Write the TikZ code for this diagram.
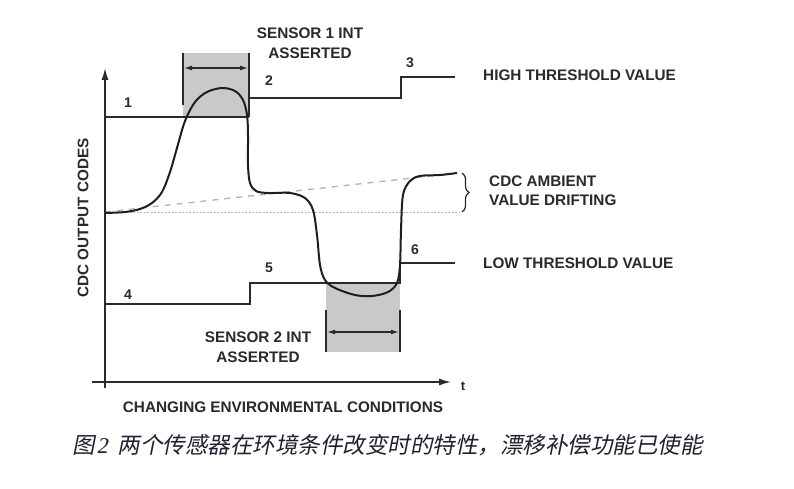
\documentclass[tikz,border=0pt]{standalone}
\usepackage{fontspec}
\setmainfont{Liberation Sans}
\newfontfamily\cjk[FakeSlant=0.2]{Noto Sans CJK SC}
\newfontfamily\capnum[FakeSlant=0.2]{Liberation Serif}
\usetikzlibrary{arrows.meta,decorations.pathreplacing}
\definecolor{ink}{HTML}{2A2A2A}
\definecolor{curvec}{HTML}{1E1E1E}
\definecolor{shade}{HTML}{C9C9C9}
\definecolor{capc}{HTML}{202030}
\begin{document}
\begin{tikzpicture}[x=1pt,y=-1pt,
  lbl/.style={font=\bfseries\fontsize{15.3}{19.5}\selectfont, text=ink, inner sep=0pt},
  num/.style={font=\bfseries\fontsize{14}{14}\selectfont, text=ink, inner sep=0pt},
  thr/.style={draw=ink, line width=1.5pt},
  edge/.style={draw=ink, line width=1.3pt},
  axis/.style={draw=ink, line width=1.5pt, -{Latex[length=12pt,width=7pt]}},
  span/.style={draw=ink, line width=1.3pt, {Latex[length=8pt,width=5pt]}-{Latex[length=8pt,width=5pt]}},
  shadebox/.style={fill=shade, draw=none}]
\path[use as bounding box, fill=white] (0,0) rectangle (794,489);

% shaded intervals
\path[shadebox] (183,53) rectangle (249,117);
\path[shadebox] (326,283) rectangle (400,352);

% baseline and drift
\draw[draw=gray!55, line width=0.9pt, dash pattern=on 2pt off 1.5pt] (105,212) -- (460,212);
\draw[draw=gray!60, line width=1.3pt, dash pattern=on 6pt off 6pt] (105,212) -- (458,173);
\coordinate (brT) at (462,173);
\coordinate (brB) at (462,212);
\draw[draw=ink, line width=1.2pt, decorate, decoration={brace, amplitude=7pt}] (brT) -- (brB);

% axes
\coordinate (yB) at (105,388);
\coordinate (yT) at (105,68);
\coordinate (xL) at (92,382);
\coordinate (xR) at (451,382);
\draw[axis] (yB) -- (yT);
\draw[axis] (xL) -- (xR);

% high thresholds
\draw[thr] (105,117) -- (249,117);
\draw[thr] (249,98) -- (401,98) -- (401,77) -- (455,77);
% low thresholds
\draw[thr] (105,304) -- (250,304) -- (250,283) -- (400,283) -- (400,263) -- (455,263);

% interval edges
\draw[edge] (183,53) -- (183,105);
\draw[edge] (249,53) -- (249,117);
\draw[edge] (326,310) -- (326,352);
\draw[edge] (400,310) -- (400,352);
\coordinate (a1L) at (184,68);
\coordinate (a1R) at (248,68);
\coordinate (a2L) at (327,332);
\coordinate (a2R) at (399,332);
\draw[span] (a1L) -- (a1R);
\draw[span] (a2L) -- (a2R);

% CDC output curve
\draw[draw=curvec, line width=2pt, line join=round]
  plot[smooth, tension=0.55] coordinates {
   (105,213) (125,212) (140,209) (152,203) (162,192) (170,172) (177,148)
   (185,121) (195,102) (207,92) (222,88) (235,91) (243,100) (247,115)
   (248,135) (248,165) (250,183) (256,191) (268,193) (290,193) (305,198)
   (313,210) (317,235) (320,265) (325,280) (335,288) (355,295) (372,296)
   (388,292) (397,283) (400,265) (401,230) (403,195) (410,181) (420,176)
   (440,175) (457,173)};

% labels
\node[lbl, align=center] (s1) at (310,43) {SENSOR 1 INT\\ASSERTED};
\node[lbl, align=center] (s2) at (258,347) {SENSOR 2 INT\\ASSERTED};
\node[lbl, anchor=west] (hi) at (483,75) {HIGH THRESHOLD VALUE};
\node[lbl, anchor=west] (lo) at (483,263) {LOW THRESHOLD VALUE};
\node[lbl, anchor=west, align=left] (drift) at (489,190.5) {CDC AMBIENT\\VALUE DRIFTING};
\node[lbl] (xlab) at (283,407) {CHANGING ENVIRONMENTAL CONDITIONS};
\node[lbl, rotate=90] (ylab) at (83,218) {CDC OUTPUT CODES};
\node[font=\bfseries\fontsize{13}{13}\selectfont, text=ink, inner sep=0pt] (tl) at (463,386) {t};

\node[num] (n1) at (128,103) {1};
\node[num] (n2) at (269,81) {2};
\node[num] (n3) at (410,63) {3};
\node[num] (n4) at (128,295) {4};
\node[num] (n5) at (269,268) {5};
\node[num] (n6) at (415,250) {6};

% caption
\node[anchor=west, inner sep=0pt, text=capc, font=\fontsize{22.5}{24}\selectfont] (cap) at (72,445)
  {\cjk 图\kern2pt{\capnum 2}\kern10pt 两个传感器在环境条件改变时的特性，漂移补偿功能已使能};
\end{tikzpicture}
\end{document}
